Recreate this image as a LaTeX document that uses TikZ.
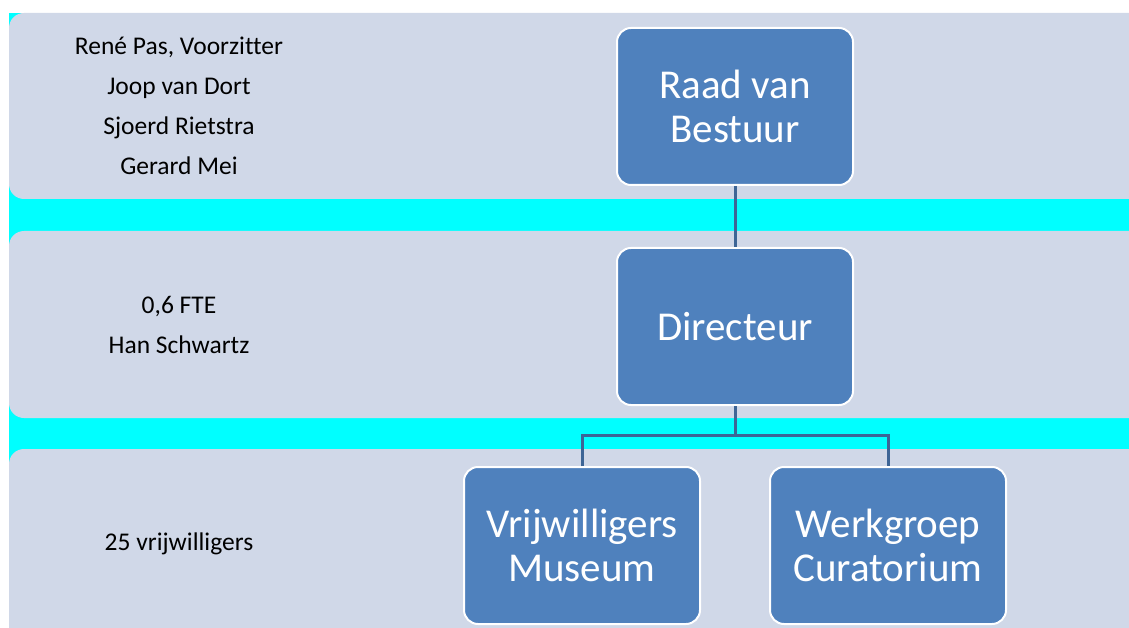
\documentclass[tikz,border=0pt]{standalone}
\usepackage{fontspec}
\setmainfont[Ligatures=NoCommon]{Carlito}
\definecolor{band}{HTML}{D0D8E8}
\definecolor{aqua}{HTML}{00FFFF}
\definecolor{boxblue}{HTML}{4F81BD}
\definecolor{linkblue}{HTML}{3D6596}
\begin{document}
\begin{tikzpicture}[x=1pt,y=-1pt,
  bandbox/.style={fill=band,draw=none,rounded corners=15pt},
  orgbox/.style={fill=boxblue,draw=white,line width=2pt,rounded corners=14pt,minimum width=236pt,minimum height=157pt,text=white,align=center,font=\fontsize{41}{44}\selectfont,inner sep=0pt},
  sidetext/.style={align=center,font=\fontsize{25.5}{40}\selectfont,text=black},
  link/.style={draw=linkblue,line width=3pt}]
\useasboundingbox (0,0) rectangle (1129,628);
\fill[white] (0,0) rectangle (1129,628);
\fill[aqua] (9,13) rectangle (1129,628);
\begin{scope}
\clip (0,0) rectangle (1129,628);
\fill[bandbox] (9,13) rectangle (1160,199);
\fill[bandbox] (9,231) rectangle (1160,418);
\fill[bandbox] (9,449) rectangle (1160,660);
\end{scope}
\node[orgbox] (raad) at (735,106.5) {Raad van\\Bestuur};
\node[orgbox] (dir) at (735,326.5) {Directeur};
\node[orgbox] (vrij) at (582,545.5) {Vrijwilligers\\Museum};
\node[orgbox] (werk) at (888,545.5) {Werkgroep\\Curatorium};
\coordinate (split) at (735,435);
\draw[link] (raad.south) -- (dir.north);
\draw[link] (dir.south) -- (split);
\draw[link] (vrij.north) |- (split) -| (werk.north);
\node[sidetext] (leden) at (179,106) {René Pas, Voorzitter\\Joop van Dort\\Sjoerd Rietstra\\Gerard Mei};
\node[sidetext] (fte) at (179,325) {0,6 FTE\\Han Schwartz};
\node[sidetext] (vw) at (179,544) {25 vrijwilligers};
\end{tikzpicture}
\end{document}
